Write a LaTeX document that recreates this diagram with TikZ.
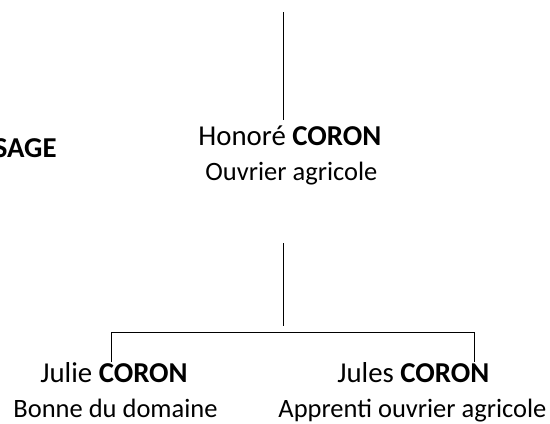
\documentclass[tikz,border=0pt]{standalone}
\usepackage{fontspec}
\setmainfont{Carlito}
\usetikzlibrary{calc}
\tikzstyle{person} = [inner sep=0pt, anchor=base west, font=\fontsize{14.4}{17}\selectfont]
\tikzstyle{job} = [inner sep=0pt, anchor=base west, font=\fontsize{13.25}{16}\selectfont]
\tikzstyle{line} = [black, line width=0.5pt]

\begin{document}
\begin{tikzpicture}[x=0.5pt, y=-0.5pt]
\useasboundingbox (0,0) rectangle (550,423);

\node (sage) [person, anchor=base east] at (57,157) {\textbf{SAGE}};
\node (honore) [person] at (198,145) {Honoré \textbf{CORON}};
\node (honorejob) [job] at ($(honore.base west)+(7,35)$) {Ouvrier agricole};
\node (julie) [person] at (40,382) {Julie \textbf{CORON}};
\node (juliejob) [job] at ($(julie.base west)+(-27,35)$) {Bonne du domaine};
\node (jules) [person] at (337,382) {Jules \textbf{CORON}};
\node (julesjob) [job] at ($(jules.base west)+(-59,35)$) {Apprenti ouvrier agricole};

\coordinate (toptip) at (283,12);
\coordinate (fork) at (283,243);
\coordinate (leftdrop) at (111,362);
\coordinate (rightdrop) at (474,362);

\draw [line] (toptip) -- ++(0,108);
\draw [line] (fork) -- ++(0,83);
\draw [line] (leftdrop) -- ++(0,-30) -| (rightdrop);
\end{tikzpicture}
\end{document}
